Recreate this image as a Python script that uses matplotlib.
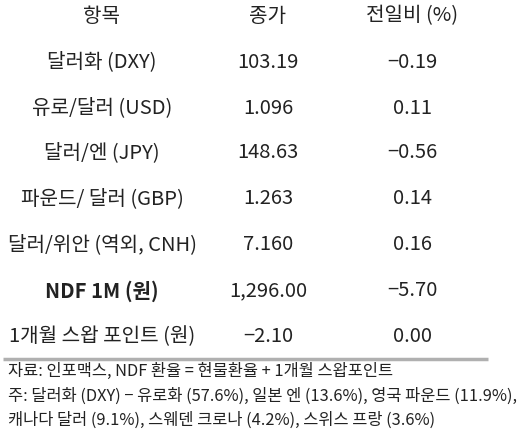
import matplotlib
matplotlib.use("Agg")
import matplotlib.pyplot as plt

plt.rcParams['font.family'] = ['Noto Sans CJK KR', 'DejaVu Sans']

headers = ["항목", "종가", "전일비 (%)"]
items = ["달러화 (DXY)", "유로/달러 (USD)", "달러/엔 (JPY)", "파운드/ 달러 (GBP)",
         "달러/위안 (역외, CNH)", "NDF 1M (원)", "1개월 스왑 포인트 (원)"]
closes = ["103.19", "1.096", "148.63", "1.263", "7.160", "1,296.00", "−2.10"]
changes = ["−0.19", "0.11", "−0.56", "0.14", "0.16", "−5.70", "0.00"]
notes = ["자료: 인포맥스, NDF 환율 = 현물환율 + 1개월 스왑포인트",
         "주: 달러화 (DXY) − 유로화 (57.6%), 일본 엔 (13.6%), 영국 파운드 (11.9%),",
         "캐나다 달러 (9.1%), 스웨덴 크로나 (4.2%), 스위스 프랑 (3.6%)"]

W, H = 528, 435
fig = plt.figure(figsize=(W/100, H/100), dpi=100)
ax = fig.add_axes([0, 0, 1, 1])
ax.set_xlim(0, W); ax.set_ylim(H, 0); ax.axis('off')

cols = [102, 268, 412]
fs = 14.5
c = '#222222'
for x, h in zip(cols, headers):
    ax.text(x, 16, h, ha='center', va='center', fontsize=fs, color=c)
row_y = [62, 108, 153, 199, 245, 291, 337]
for i, y in enumerate(row_y):
    w = 'bold' if i == 5 else 'normal'
    ax.text(cols[0], y, items[i], ha='center', va='center', fontsize=fs, color=c, fontweight=w)
    ax.text(cols[1], y, closes[i], ha='center', va='center', fontsize=fs, color=c)
    ax.text(cols[2], y, changes[i], ha='center', va='center', fontsize=fs, color=c)

ax.plot([3, 488], [360, 360], color='#b0b0b0', lw=2.5, solid_capstyle='butt')
for y, t in zip([371, 396, 420], notes):
    ax.text(8, y, t, ha='left', va='center', fontsize=11.8, color=c)

fig.savefig("out.png", dpi=100)
